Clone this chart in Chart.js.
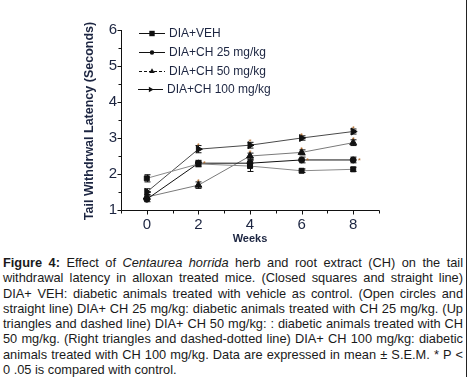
<!DOCTYPE html>
<html>
<head>
<meta charset="utf-8">
<script src="https://cdn.jsdelivr.net/npm/chart.js@4.4.0/dist/chart.umd.min.js"></script>
<style>
  body { margin: 0; background: #fff; }
  #wrap { position: relative; width: 469px; height: 377px; overflow: hidden; }
  #chartBox { position: absolute; left: 0; top: 0; width: 469px; height: 248px; }
  #caption {
    position: absolute; left: 3px; top: 255px; width: 460px;
    font-family: "Liberation Sans", Arial, sans-serif; font-size: 12.8px;
    line-height: 15.3px; text-align: justify; color: #1a1a1a;
  }
  #edge { position: absolute; left: 466px; top: 0; width: 1px; height: 377px; background: #222; }
</style>
</head>
<body>
<div id="wrap">
  <div id="chartBox"><canvas id="tailChart"></canvas></div>
  <div id="caption"><b>Figure 4:</b> Effect of <i>Centaurea horrida</i> herb and root extract (CH) on the tail withdrawal latency in alloxan treated mice. (Closed squares and straight line) DIA+ VEH: diabetic animals treated with vehicle as control. (Open circles and straight line) DIA+ CH 25 mg/kg: diabetic animals treated with CH 25 mg/kg. (Up triangles and dashed line) DIA+ CH 50 mg/kg: : diabetic animals treated with CH 50 mg/kg. (Right triangles and dashed-dotted line) DIA+ CH 100 mg/kg: diabetic animals treated with CH 100 mg/kg. Data are expressed in mean &plusmn; S.E.M. * P &lt; 0 .05 is compared with control.</div>
  <div id="edge"></div>
</div>
<script>
// data
const weeks = [0, 2, 4, 6, 8];
const seriesNames = ['DIA+VEH', 'DIA+CH 25 mg/kg', 'DIA+CH 50 mg/kg', 'DIA+CH 100 mg/kg'];
const vehValues = [1.88, 2.28, 2.22, 2.09, 2.13];
const ch25Values = [1.30, 2.30, 2.30, 2.39, 2.39];
const ch50Values = [1.36, 1.69, 2.50, 2.60, 2.87];
const ch100Values = [1.50, 2.69, 2.80, 3.00, 3.18];
const vehErr = [0.10, 0.08, 0.15, 0.05, 0.06];
const ch25Err = [0.07, 0.08, 0.10, 0.08, 0.08];
const ch50Err = [0.07, 0.09, 0.08, 0.07, 0.08];
const ch100Err = [0.09, 0.10, 0.08, 0.06, 0.07];
const ch25Sig = [0, 1, 0, 1, 1];
const ch50Sig = [0, 1, 1, 1, 1];
const ch100Sig = [0, 1, 1, 1, 1];
const yTicks = [1, 2, 3, 4, 5, 6];
const xTicks = [0, 2, 4, 6, 8];

const styles = [
  { color: '#8a8a8a', point: 'rect', size: 3.5, rot: 0, dash: [] },
  { color: '#111111', point: 'circle', size: 3, rot: 0, dash: [] },
  { color: '#7a7a7a', point: 'triangle', size: 4, rot: 0, dash: [3, 2] },
  { color: '#4a4a4a', point: 'triangle', size: 4, rot: 90, dash: [] }
];
const allValues = [vehValues, ch25Values, ch50Values, ch100Values];
const allErr = [vehErr, ch25Err, ch50Err, ch100Err];
const allSig = [null, ch25Sig, ch50Sig, ch100Sig];

const tickColor = '#1c2541';
const font = '"Liberation Sans", Arial, sans-serif';

const datasets = allValues.map((vals, i) => ({
  label: seriesNames[i],
  data: weeks.map((w, j) => ({ x: w, y: vals[j] })),
  borderColor: styles[i].color,
  borderWidth: 1,
  pointStyle: styles[i].point,
  pointRotation: styles[i].rot,
  pointRadius: styles[i].size,
  pointBackgroundColor: '#111',
  pointBorderColor: '#111',
  pointBorderWidth: 1,
  showLine: true,
  fill: false
}));

function marker(ctx, style, rot, r, x, y) {
  ctx.save();
  ctx.fillStyle = '#111';
  ctx.translate(x, y);
  ctx.rotate(rot * Math.PI / 180);
  ctx.beginPath();
  if (style === 'rect') {
    ctx.rect(-r, -r, 2 * r, 2 * r);
  } else if (style === 'circle') {
    ctx.arc(0, 0, r, 0, Math.PI * 2);
  } else {
    ctx.moveTo(0, -r);
    ctx.lineTo(r * 0.87, r * 0.5);
    ctx.lineTo(-r * 0.87, r * 0.5);
    ctx.closePath();
  }
  ctx.fill();
  ctx.restore();
}

// axis lines, error bars, stars, ticks, titles and legend
const extras = {
  id: 'extras',
  beforeDatasetsDraw(chart) {
    const ctx = chart.ctx;
    const xs = chart.scales.x, ys = chart.scales.y;
    ctx.save();
    ctx.strokeStyle = '#111';
    ctx.lineWidth = 1;
    allValues.forEach((vals, i) => {
      vals.forEach((v, j) => {
        const px = Math.round(xs.getPixelForValue(weeks[j])) + 0.5;
        const top = ys.getPixelForValue(v + allErr[i][j]);
        const bot = ys.getPixelForValue(v - allErr[i][j]);
        ctx.beginPath();
        ctx.moveTo(px, top); ctx.lineTo(px, bot);
        ctx.moveTo(px - 3, top); ctx.lineTo(px + 3, top);
        ctx.moveTo(px - 3, bot); ctx.lineTo(px + 3, bot);
        ctx.stroke();
      });
    });
    ctx.restore();
  },
  afterDraw(chart) {
    const ctx = chart.ctx;
    const xs = chart.scales.x, ys = chart.scales.y;
    const area = chart.chartArea;
    const L = Math.round(area.left) + 0.5, B = Math.round(area.bottom) + 0.5;
    ctx.save();
    // axis lines and tick marks
    ctx.strokeStyle = '#111';
    ctx.lineWidth = 1;
    ctx.beginPath();
    ctx.moveTo(L, Math.round(area.top)); ctx.lineTo(L, B);
    ctx.lineTo(Math.round(area.right) + 0.5, B);
    for (let v = -1; v <= 9; v++) {
      const px = Math.round(xs.getPixelForValue(v)) + 0.5;
      const len = (v % 2 === 0) ? 4 : 3;
      ctx.moveTo(px, B); ctx.lineTo(px, B + len);
    }
    for (let v = 1; v <= 6; v += 0.5) {
      const py = Math.round(ys.getPixelForValue(v)) + 0.5;
      const len = Number.isInteger(v) ? 4 : 3;
      ctx.moveTo(L, py); ctx.lineTo(L - len, py);
    }
    ctx.stroke();

    // significance stars
    ctx.fillStyle = '#b06a2a';
    ctx.font = '8px ' + font;
    ctx.textAlign = 'center';
    ctx.textBaseline = 'alphabetic';
    allSig.forEach((sig, i) => {
      if (!sig) return;
      sig.forEach((s, j) => {
        if (!s) return;
        const v = allValues[i][j] + allErr[i][j];
        const px = xs.getPixelForValue(weeks[j]) + (i === 1 ? 6 : 0);
        const py = ys.getPixelForValue(v) + (i === 1 ? 2 : -2);
        ctx.fillText('*', px, py + 4);
      });
    });

    // axis titles
    ctx.fillStyle = tickColor;
    ctx.font = 'bold 11px ' + font;
    ctx.textAlign = 'center';
    ctx.textBaseline = 'middle';
    ctx.fillText('Weeks', (area.left + area.right) / 2, 239);
    ctx.save();
    ctx.translate(90, (area.top + area.bottom) / 2 + 1);
    ctx.rotate(-Math.PI / 2);
    ctx.font = 'bold 12.5px ' + font;
    ctx.fillText('Tail Withdrwal Latency (Seconds)', 0, 0);
    ctx.restore();

    // legend
    ctx.font = '12px ' + font;
    ctx.textAlign = 'left';
    const rows = [33, 52, 71, 89];
    chart.data.datasets.forEach((ds, i) => {
      const y = rows[i] + 0.5;
      const x0 = i === 3 ? 138 : 139, x1 = i === 3 ? 163 : 165;
      ctx.strokeStyle = '#111';
      ctx.setLineDash(styles[i].dash);
      ctx.beginPath();
      ctx.moveTo(x0, y); ctx.lineTo(x1, y);
      ctx.stroke();
      ctx.setLineDash([]);
      marker(ctx, styles[i].point, styles[i].rot, styles[i].size - 0.8, (x0 + x1) / 2, y);
      ctx.fillStyle = tickColor;
      ctx.fillText(ds.label, x1 + 4, y);
    });
    ctx.restore();
  }
};

const chart = new Chart(document.getElementById('tailChart'), {
  type: 'scatter',
  data: { datasets },
  plugins: [extras],
  options: {
    responsive: true,
    maintainAspectRatio: false,
    animation: false,
    layout: { padding: { left: 0, right: 90, top: 30, bottom: 0 } },
    plugins: { legend: { display: false }, tooltip: { enabled: false } },
    scales: {
      x: {
        type: 'linear', min: -1, max: 9,
        afterFit(scale) { scale.height = 38; },
        afterBuildTicks(scale) { scale.ticks = xTicks.map(v => ({ value: v })); },
        grid: { display: false, drawTicks: false },
        border: { display: false },
        ticks: { color: tickColor, padding: 6, font: { family: font, size: 15 } }
      },
      y: {
        type: 'linear', min: 1, max: 6,
        afterFit(scale) { scale.width = 121; },
        afterBuildTicks(scale) { scale.ticks = yTicks.map(v => ({ value: v })); },
        grid: { display: false, drawTicks: false },
        border: { display: false },
        ticks: { color: tickColor, padding: 4, font: { family: font, size: 15 } }
      }
    }
  }
});
</script>
</body>
</html>
